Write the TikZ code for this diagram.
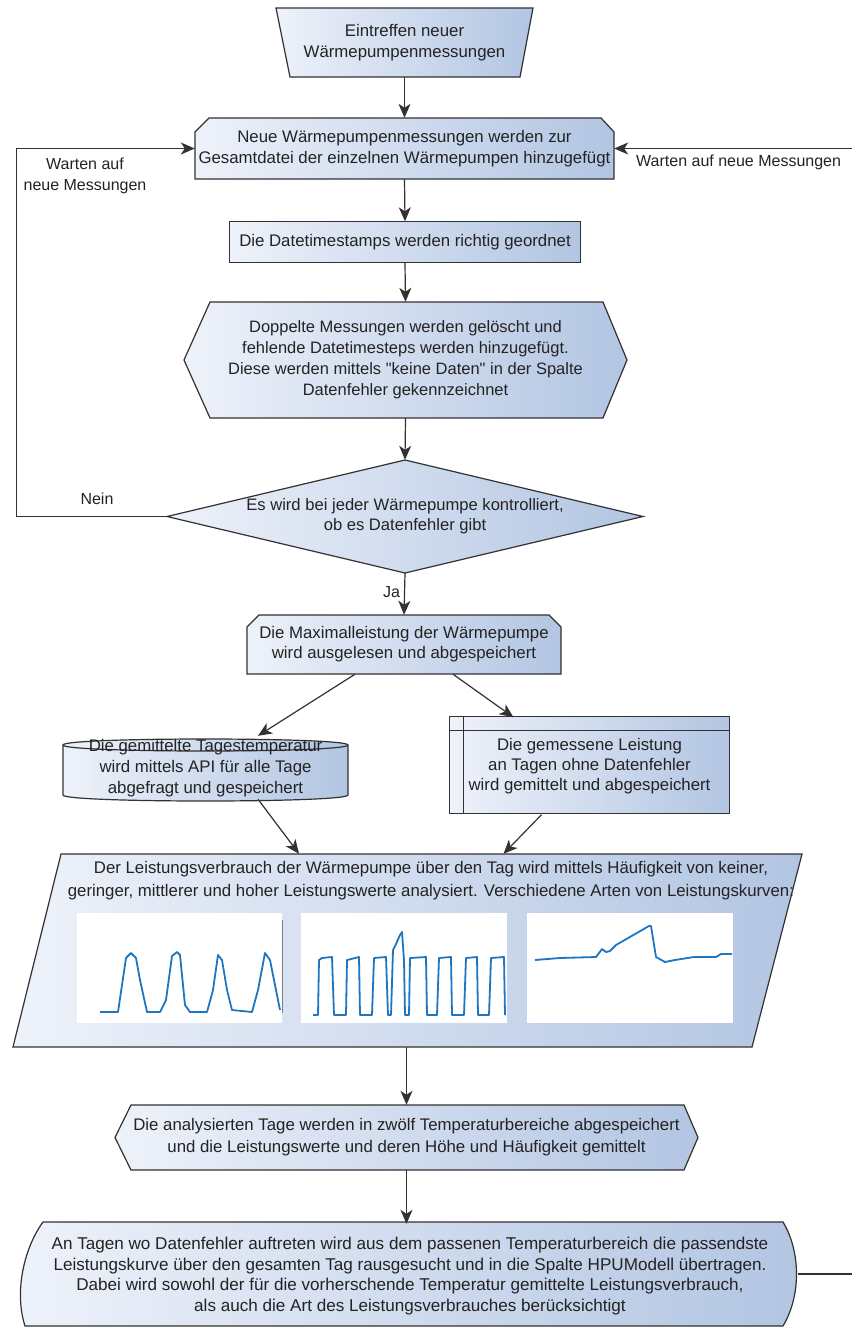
\documentclass[tikz,border=0pt]{standalone}
\usepackage{fontspec}
\setmainfont{Liberation Sans}
\newfontfamily\lsans{Liberation Sans}
\usetikzlibrary{arrows.meta,calc}
\definecolor{gl}{RGB}{238,242,250}
\definecolor{gr}{RGB}{178,197,226}
\definecolor{ln}{RGB}{50,50,50}
\definecolor{tx}{RGB}{35,35,35}
\definecolor{pb}{RGB}{30,118,192}
\tikzset{
  shp/.style={draw=ln, line width=1.2pt, left color=gl, right color=gr},
  lbl/.style={inner sep=0pt, text=tx, align=center, font=\lsans\fontsize{16.8}{21}\selectfont},
  lab/.style={inner sep=0pt, text=tx, align=center, font=\lsans\fontsize{16}{21}\selectfont},
  conn/.style={draw=ln, line width=1.2pt},
  arr/.style={conn, -{Stealth[length=14pt,width=12pt,inset=4pt]}},
  plotbg/.style={fill=white, draw=none},
  curve/.style={draw=pb, line width=1.8pt, line join=round}
}
\begin{document}
\begin{tikzpicture}[x=1pt,y=-1pt]
\useasboundingbox[fill=white] (0,0) rectangle (852,1328);
% 1 trapezoid
\path[shp] (276,8)--(533,8)--(520,77)--(290,77)--cycle;
\node[lbl, minimum width=257pt, minimum height=69pt] (n1) at (404.5,42.5) {Eintreffen neuer\\Wärmepumpenmessungen};
% 2 loop limit
\path[shp] (209,118)--(601,118)--(614,132)--(614,179)--(195,179)--(195,132)--cycle;
\node[lbl, minimum width=419pt, minimum height=61pt] (n2) at (404.5,148.5) {Neue Wärmepumpenmessungen werden zur\\Gesamtdatei der einzelnen Wärmepumpen hinzugefügt};
% 3 process
\path[shp] (229.5,221.5)--(580.5,221.5)--(580.5,262.5)--(229.5,262.5)--cycle;
\node[lbl, minimum width=351pt, minimum height=41pt] (n3) at (405,242) {Die Datetimestamps werden richtig geordnet};
% 4 hexagon
\path[shp] (210,302)--(603,302)--(627,360)--(603,418)--(210,418)--(184,360)--cycle;
\node[lbl, font=\lsans\fontsize{16.5}{21}\selectfont, minimum width=443pt, minimum height=116pt] (n4) at (405.5,360) {Doppelte Messungen werden gelöscht und\\fehlende Datetimesteps werden hinzugefügt.\\Diese werden mittels "keine Daten" in der Spalte\\Datenfehler gekennzeichnet};
% 5 diamond
\path[shp] (405,460)--(643,516.5)--(405,573)--(167,516.5)--cycle;
\node[lbl, font=\lsans\fontsize{16.6}{20}\selectfont, minimum width=476pt, minimum height=113pt] (n5) at (405,516.5) {Es wird bei jeder Wärmepumpe kontrolliert,\\ob es Datenfehler gibt};
% 6 loop limit
\path[shp] (259,615)--(549,615)--(561,627)--(561,674)--(247,674)--(247,627)--cycle;
\node[lbl, font=\lsans\fontsize{16.8}{20}\selectfont, minimum width=314pt, minimum height=59pt] (n6) at (404,644.5) {Die Maximalleistung der Wärmepumpe\\wird ausgelesen und abgespeichert};
% 7 cylinder
\path[shp] (63,745) -- (63,795) .. controls (63,803) and (348,803) .. (348,795) -- (348,745) .. controls (348,737) and (63,737) .. (63,745) -- cycle;
\draw[conn] (63,745) .. controls (63,753) and (348,753) .. (348,745);
\node[lbl, minimum width=285pt, minimum height=62pt] (n7) at (205.5,768) {Die gemittelte Tagestemperatur\\wird mittels API für alle Tage\\abgefragt und gespeichert};
% 8 predefined process
\path[shp] (449.5,716.5)--(729.5,716.5)--(729.5,813.5)--(449.5,813.5)--cycle;
\draw[conn] (463.5,716.5) -- (463.5,813.5);
\draw[conn] (449.5,730.5) -- (729.5,730.5);
\node[lbl, font=\lsans\fontsize{16.8}{20}\selectfont, minimum width=280pt, minimum height=97pt] (n8) at (589.5,766) {Die gemessene Leistung\\an Tagen ohne Datenfehler\\wird gemittelt und abgespeichert};
% 9 parallelogram
\path[shp] (61,854)--(802,854)--(752,1047)--(13,1047)--cycle;
\node[inner sep=0pt, minimum width=789pt, minimum height=193pt] (n9) at (407.5,950.5) {};
\node[lbl, font=\lsans\fontsize{16.8}{23}\selectfont] (n9t) at (431,881) {Der Leistungsverbrauch der Wärmepumpe über den Tag wird mittels Häufigkeit von keiner,\\geringer, mittlerer und hoher Leistungswerte analysiert. Verschiedene Arten von Leistungskurven:};
% plots
\node[plotbg, minimum width=205pt, minimum height=110pt, inner sep=0pt] (p1) at (179.5,968) {};
\node[plotbg, minimum width=206pt, minimum height=110pt, inner sep=0pt] (p2) at (404,968) {};
\node[plotbg, minimum width=206pt, minimum height=110pt, inner sep=0pt] (p3) at (629.5,968) {};
\draw[gray, line width=0.8pt] (282,920) -- (282,1013);
\draw[curve] (100,1012)--(118,1012)--(126,958)--(131,953)--(136,958)--(140,980)--(147,1012)--(160,1012)--(166,1000)--(172,956)--(177,952)--(180,955)--(185,1005)--(190,1012)--(207,1012)--(213,990)--(218,955)--(222,960)--(227,990)--(232,1010)--(252,1012)--(258,990)--(265,953)--(270,960)--(276,990)--(280,1010);
\draw[curve] (313,1015)--(318,1015)--(319,960)--(322,958)--(332,957)--(334,1015)--(346,1015)--(347,960)--(359,957)--(360,1015)--(372,1015)--(374,958)--(386,957)--(388,1015)--(391,1015)--(393,950)--(396,944)--(400,935)--(402,932)--(404,960)--(405,1015)--(409,1015)--(410,958)--(426,957)--(427,1015)--(437,1015)--(439,958)--(451,957)--(452,1015)--(464,1015)--(466,958)--(477,957)--(478,1015)--(489,1015)--(491,958)--(504,957)--(505,1015);
\draw[curve] (535,960)--(560,958)--(596,957)--(602,949)--(606,952)--(610,951)--(616,945)--(649,926)--(651,926)--(656,957)--(665,962)--(675,960)--(694,957)--(716,957)--(721,954)--(732,954);
% 10 hexagon
\path[shp] (131,1105)--(684,1105)--(698,1137.5)--(684,1170)--(131,1170)--(115,1137.5)--cycle;
\node[lbl, font=\lsans\fontsize{16.8}{22}\selectfont, minimum width=583pt, minimum height=65pt] (n10) at (406.5,1137.5) {Die analysierten Tage werden in zwölf Temperaturbereiche abgespeichert\\und die Leistungswerte und deren Höhe und Häufigkeit gemittelt};
% 11 curved-side box
\path[shp] (43,1222)--(783,1222) .. controls (801,1252) and (801,1296) .. (783,1326) -- (25,1326) .. controls (14,1292) and (24,1248) .. (43,1222) -- cycle;
\node[lbl, font=\lsans\fontsize{17.1}{20.5}\selectfont, minimum width=776pt, minimum height=104pt] (n11) at (410,1276) {An Tagen wo Datenfehler auftreten wird aus dem passenen Temperaturbereich die passendste\\Leistungskurve über den gesamten Tag rausgesucht und in die Spalte HPUModell übertragen.\\Dabei wird sowohl der für die vorherschende Temperatur gemittelte Leistungsverbrauch,\\als auch die Art des Leistungsverbrauches berücksichtigt};
% connectors
\draw[arr] (n1.south) -- (n2.north);
\draw[arr] (n2.south) -- (n3.north);
\draw[arr] (n3.south) -- (n4.north);
\draw[arr] (n4.south) -- (n5.north);
\draw[arr] (n5.south) -- node[lab, left=4pt, pos=0.45] (ja) {Ja} (n6.north);
\draw[arr] ([xshift=-49pt]n6.south) -- ([xshift=52.5pt,yshift=1pt]n7.north);
\draw[arr] ([xshift=49pt]n6.south) -- ([xshift=-76pt]n8.north);
\draw[arr] ([xshift=52.5pt]n7.south) -- ([xshift=-108.5pt]n9.north);
\draw[arr] ([xshift=-48pt]n8.south) -- ([xshift=96pt]n9.north);
\draw[arr] (n9.south -| n10.north) -- (n10.north);
\draw[arr] (n10.south) -- (n10.south |- n11.north);
\draw[arr] (n5.west) -- ++(-150,0) |- (n2.west);
\node[lab] (nein) at (97,499) {Nein};
\node[lab] (wl) at (85,176) {Warten auf\\neue Messungen};
\coordinate (rin) at (852,148.5);
\draw[arr] (rin) -- (n2.east);
\node[lab, anchor=west] (wr) at (636,162) {Warten auf neue Messungen};
\coordinate (rout) at (852,1274);
\draw[conn] (n11.east |- rout) -- (rout);
\end{tikzpicture}
\end{document}
